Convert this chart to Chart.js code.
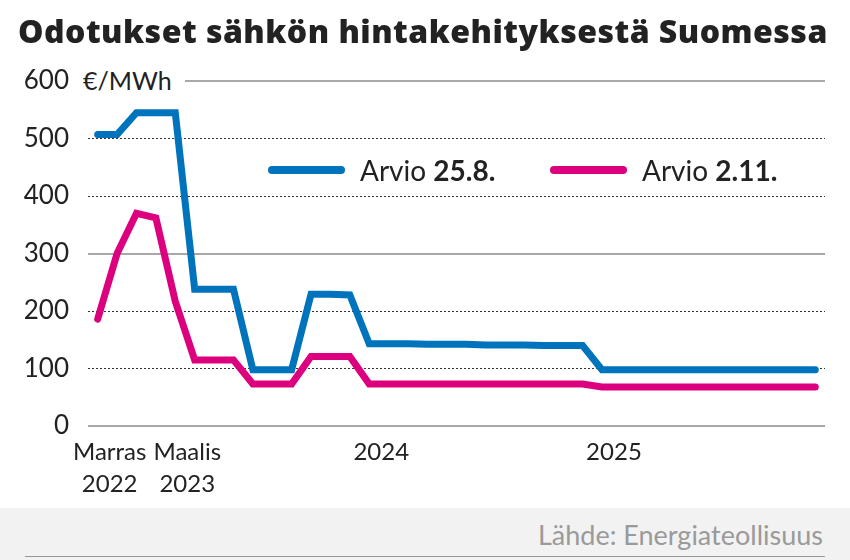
<!DOCTYPE html>
<html><head><meta charset="utf-8">
<script src="https://cdn.jsdelivr.net/npm/chart.js@4/dist/chart.umd.min.js"></script>
<style>
html,body{margin:0;padding:0;background:#fff;}
#wrap{position:relative;width:850px;height:560px;overflow:hidden;font-family:Lato,"Open Sans",sans-serif;}
#title{position:absolute;left:18px;top:11px;font-family:"Open Sans",Lato,sans-serif;font-weight:800;font-size:32px;line-height:40px;color:#222;white-space:nowrap;}
#cw{position:absolute;left:0;top:0;width:850px;height:508px;}
#unit{position:absolute;left:80px;top:64px;background:#fff;padding:0 13px 0 3px;font-size:25px;color:#222;line-height:32px;}
.leg{position:absolute;top:153px;font-size:28px;color:#222;display:flex;align-items:center;line-height:34px;white-space:nowrap;}
.leg .sw{display:inline-block;width:77px;height:8px;border-radius:4px;margin-right:15px;}
.leg b{font-weight:700;}
#footer{position:absolute;left:0;top:508px;width:850px;height:52px;background:#f2f2f2;}
#src{position:absolute;right:27px;top:11px;font-size:27px;color:#9a9a9a;line-height:32px;}
#rule{position:absolute;left:25px;width:800px;top:48px;height:1px;background:#999;}
</style>
</head><body>
<div id="wrap">
  <div id="cw"><canvas id="c"></canvas></div>
  <div id="title"></div>
  <div id="unit">€/MWh</div>
  <div id="legend"></div>
  <div id="footer"><div id="src">Lähde: Energiateollisuus</div><div id="rule"></div></div>
</div>
<script>
// Months from November 2022 to December 2025
const months = ['11/2022','12/2022',
  '1/2023','2/2023','3/2023','4/2023','5/2023','6/2023','7/2023','8/2023','9/2023','10/2023','11/2023','12/2023',
  '1/2024','2/2024','3/2024','4/2024','5/2024','6/2024','7/2024','8/2024','9/2024','10/2024','11/2024','12/2024',
  '1/2025','2/2025','3/2025','4/2025','5/2025','6/2025','7/2025','8/2025','9/2025','10/2025','11/2025','12/2025'];

// Forecast made 25.8. (€/MWh)
const arvio258 = [507,507,545,545,545,238,238,238,98,98,98,229,229,228,
  143,143,143,142,142,142,141,141,141,140,140,140,
  98,98,98,98,98,98,98,98,98,98,98,98];

// Forecast made 2.11. (€/MWh)
const arvio211 = [186,300,370,362,217,115,115,115,73,73,73,121,121,121,
  73,73,73,73,73,73,73,73,73,73,73,73,
  68,68,68,68,68,68,68,68,68,68,68,68];

const seriesPrefix = ['Arvio', 'Arvio'];
const seriesDates = ['25.8.', '2.11.'];
const seriesColors = ['#0073bd', '#dc007f'];

const xTickMonths = ['11/2022','3/2023','1/2024','1/2025'];
const xTickLabels = [['Marras','2022'],['Maalis','2023'],['2024'],['2025']];

const yTicks = [0,100,200,300,400,500,600];
const solidLines = [0,300,600];

const titleText = 'Odotukset sähkön hintakehityksestä Suomessa';

// title (fitted to the reference's width)
const titleEl = document.getElementById('title');
titleEl.textContent = titleText;
const tw = titleEl.getBoundingClientRect().width;
const ls = Math.max(0, Math.min(3, (810 - tw) / titleText.length));
titleEl.style.letterSpacing = ls.toFixed(2) + 'px';

// legend
const legPos = [268, 550];
const legend = document.getElementById('legend');
seriesDates.forEach((d,i)=>{
  const el = document.createElement('div');
  el.className='leg';
  el.style.left = legPos[i]+'px';
  const sw = document.createElement('span'); sw.className='sw'; sw.style.background = seriesColors[i];
  const t = document.createElement('span');
  t.appendChild(document.createTextNode(seriesPrefix[i]+' '));
  const b = document.createElement('b'); b.textContent = d; t.appendChild(b);
  el.appendChild(sw); el.appendChild(t);
  legend.appendChild(el);
});

const isSolid = v => solidLines.includes(v);

new Chart(document.getElementById('c'), {
  type: 'line',
  data: {
    labels: months,
    datasets: [
      {label: seriesPrefix[1]+' '+seriesDates[1], data: arvio211, borderColor: seriesColors[1], backgroundColor: seriesColors[1]},
      {label: seriesPrefix[0]+' '+seriesDates[0], data: arvio258, borderColor: seriesColors[0], backgroundColor: seriesColors[0]}
    ]
  },
  options: {
    responsive: true,
    maintainAspectRatio: false,
    animation: false,
    layout: {padding: {left: 18, right: 25, top: 81, bottom: 0}},
    elements: {
      line: {borderWidth: 7, tension: 0, borderCapStyle: 'round', borderJoinStyle: 'miter', fill: false},
      point: {radius: 0, hoverRadius: 0}
    },
    plugins: {
      legend: {display: false},
      tooltip: {enabled: false},
      title: {display: false}
    },
    scales: {
      x: {
        type: 'category',
        offset: true,
        grid: {display: false, drawTicks: false},
        border: {display: false},
        afterFit: s => { s.height = 82; },
        ticks: {
          autoSkip: false, maxRotation: 0, minRotation: 0,
          padding: 11, labelOffset: 12, color: '#222',
          font: {family: 'Lato', size: 24, lineHeight: 1.3},
          callback: function(v, i){
            const k = xTickMonths.indexOf(months[i]);
            return k >= 0 ? xTickLabels[k] : '';
          }
        }
      },
      y: {
        min: 0, max: 600,
        afterFit: s => { s.width = 70; },
        afterBuildTicks: s => { s.ticks = yTicks.map(v => ({value: v})); },
        grid: {
          drawTicks: false,
          color: c => (c.tick && isSolid(c.tick.value)) ? '#a8a8a8' : '#333',
          lineWidth: c => (c.tick && isSolid(c.tick.value)) ? 2 : 1
        },
        border: {display: false, dash: c => (c.tick && !isSolid(c.tick.value)) ? [2,2] : []},
        ticks: {padding: 19, color: '#222', font: {family: 'Lato', size: 26}}
      }
    }
  }
});
</script>
</body></html>
